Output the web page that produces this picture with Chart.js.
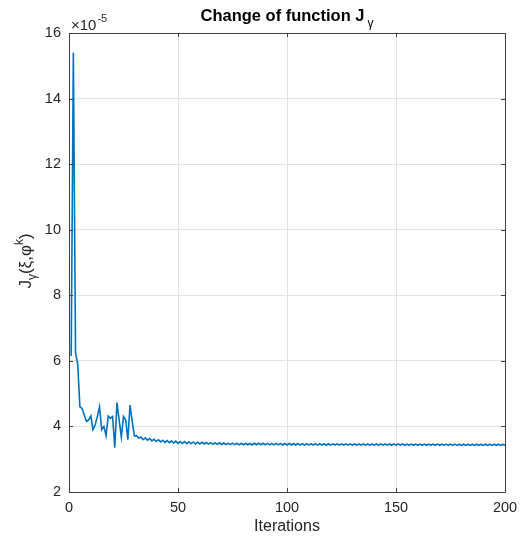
<!DOCTYPE html>
<html><head><meta charset="utf-8">
<style>html,body{margin:0;padding:0;background:#fff;}#wrap{width:526px;height:539px;position:relative;}</style>
<script src="https://cdn.jsdelivr.net/npm/chart.js@4.4.1/dist/chart.umd.min.js"></script>
</head><body><div id="wrap"><canvas id="c" width="526" height="539"></canvas></div>
<script>
// Values of J_gamma in units of 1e-5, iterations 1..200
const jValues = [
6.15,15.4,6.25,5.90,4.60,4.55,4.35,4.15,4.20,4.32,
3.90,4.05,4.30,4.60,3.90,4.00,3.72,4.32,4.25,4.30,
3.35,4.73,4.20,3.68,4.30,4.20,3.60,4.65,4.15,3.71,
3.72,3.64,3.68,3.60,3.65,3.58,3.63,3.56,3.61,3.54,
3.595,3.53,3.58,3.515,3.57,3.505,3.56,3.495,3.55,3.485,
3.54,3.48,3.535,3.475,3.53,3.47,3.525,3.465,3.52,3.465,
3.515,3.465,3.51,3.46,3.505,3.455,3.50,3.455,3.50,3.45,
3.495,3.45,3.49,3.445,3.49,3.445,3.485,3.44,3.485,3.44,
3.48,3.44,3.48,3.435,3.487,3.442,3.486,3.441,3.485,3.440,
3.484,3.439,3.483,3.438,3.482,3.437,3.481,3.436,3.480,3.435,
3.479,3.434,3.478,3.433,3.477,3.432,3.476,3.431,3.475,3.430,
3.474,3.430,3.473,3.429,3.472,3.429,3.471,3.428,3.470,3.428,
3.468,3.432,3.468,3.431,3.467,3.431,3.467,3.431,3.467,3.430,
3.466,3.430,3.466,3.430,3.466,3.429,3.465,3.429,3.465,3.429,
3.465,3.428,3.464,3.428,3.464,3.428,3.464,3.427,3.463,3.427,
3.463,3.427,3.463,3.426,3.462,3.426,3.462,3.426,3.462,3.425,
3.461,3.425,3.461,3.425,3.461,3.424,3.460,3.424,3.460,3.424,
3.460,3.423,3.459,3.423,3.459,3.423,3.459,3.422,3.458,3.422,
3.458,3.422,3.458,3.422,3.458,3.421,3.457,3.421,3.457,3.421,
3.457,3.421,3.457,3.420,3.456,3.420,3.456,3.420,3.456,3.420
];
const xTicks = [0, 50, 100, 150, 200];
const yTicks = [2, 4, 6, 8, 10, 12, 14, 16];
const titleMain = 'Change of function J';
const titleSub = 'γ';
const xLabel = 'Iterations';
const exponentBase = '×10';
const exponentPow = '-5';

const points = jValues.map((v, i) => ({x: i + 1, y: v}));
const FONT = "'Liberation Sans', Arial, Helvetica, sans-serif";
const AX = '#404040';

const decor = {
  id: 'decor',
  afterDraw(chart) {
    const ctx = chart.ctx;
    const a = chart.chartArea;
    const xs = chart.scales.x, ys = chart.scales.y;
    ctx.save();
    // box
    ctx.strokeStyle = AX; ctx.lineWidth = 1;
    ctx.beginPath();
    ctx.moveTo(a.left + 0.5, a.bottom + 0.5); ctx.lineTo(a.left + 0.5, a.top + 0.5);
    ctx.lineTo(a.right + 0.5, a.top + 0.5); ctx.lineTo(a.right + 0.5, a.bottom + 0.5);
    ctx.lineTo(a.left + 0.5, a.bottom + 0.5);
    ctx.stroke();
    // inner ticks
    ctx.beginPath();
    xTicks.forEach(t => {
      const px = Math.round(xs.getPixelForValue(t)) + 0.5;
      ctx.moveTo(px, a.bottom); ctx.lineTo(px, a.bottom - 4);
      ctx.moveTo(px, a.top); ctx.lineTo(px, a.top + 4);
    });
    yTicks.forEach(t => {
      const py = Math.round(ys.getPixelForValue(t)) + 0.5;
      ctx.moveTo(a.left, py); ctx.lineTo(a.left + 4, py);
      ctx.moveTo(a.right, py); ctx.lineTo(a.right - 4, py);
    });
    ctx.stroke();

    ctx.fillStyle = '#000';
    ctx.textBaseline = 'alphabetic';
    // title
    const tf = 'bold 16.5px ' + FONT, sf = '12px ' + FONT;
    ctx.font = tf;
    const wMain = ctx.measureText(titleMain).width;
    ctx.font = sf;
    const wSub = ctx.measureText(titleSub).width;
    const tx = (a.left + a.right) / 2 - (wMain + wSub + 3) / 2;
    ctx.font = tf;
    ctx.textAlign = 'left';
    ctx.fillText(titleMain, tx, 21);
    ctx.font = sf;
    ctx.fillText(titleSub, tx + wMain + 3, 27);

    // exponent
    ctx.fillStyle = '#262626';
    ctx.font = '15px ' + FONT;
    ctx.fillText(exponentBase, a.left + 2, 29.5);
    const wb = ctx.measureText(exponentBase).width;
    ctx.font = '11px ' + FONT;
    ctx.fillText(exponentPow, a.left + 2 + wb + 1, 22);

    // x label
    ctx.font = '16px ' + FONT;
    ctx.textAlign = 'center';
    ctx.fillText(xLabel, (a.left + a.right) / 2, 531);

    // y label: J_γ(ξ,φ^k)
    const parts = [
      {t: 'J', f: '17px ', dy: 0},
      {t: 'γ', f: '12px ', dy: 5},
      {t: '(ξ,φ', f: '17px ', dy: 0},
      {t: 'k', f: '12px ', dy: -8},
      {t: ')', f: '17px ', dy: 0}
    ];
    let total = 0;
    parts.forEach(p => { ctx.font = p.f + FONT; p.w = ctx.measureText(p.t).width; total += p.w; });
    ctx.translate(31, 261);
    ctx.rotate(-Math.PI / 2);
    ctx.textAlign = 'left';
    let cx = -total / 2;
    parts.forEach(p => { ctx.font = p.f + FONT; ctx.fillText(p.t, cx, p.dy); cx += p.w; });
    ctx.restore();
  }
};

new Chart(document.getElementById('c'), {
  type: 'line',
  data: { datasets: [{
    data: points,
    borderColor: '#0072BD',
    borderWidth: 1.6,
    pointRadius: 0,
    tension: 0,
    fill: false
  }]},
  options: {
    responsive: false,
    animation: false,
    layout: { padding: { left: 0, right: 21, top: 33, bottom: 0 } },
    plugins: { legend: { display: false }, tooltip: { enabled: false }, title: { display: false } },
    scales: {
      x: {
        type: 'linear', min: 0, max: 200,
        afterBuildTicks: s => { s.ticks = xTicks.map(v => ({value: v})); },
        afterFit: s => { s.height = 47; },
        grid: { color: '#e3e3e3', drawTicks: false, lineWidth: 1 },
        border: { display: false },
        ticks: { color: '#262626', font: { family: FONT, size: 14.5 }, padding: 7, maxRotation: 0 }
      },
      y: {
        type: 'linear', min: 2, max: 16,
        afterBuildTicks: s => { s.ticks = yTicks.map(v => ({value: v})); },
        afterFit: s => { s.width = 69; },
        grid: { color: '#e3e3e3', drawTicks: false, lineWidth: 1 },
        border: { display: false },
        ticks: { color: '#262626', font: { family: FONT, size: 14.5 }, padding: 8 }
      }
    }
  },
  plugins: [decor]
});
</script>
</body></html>
